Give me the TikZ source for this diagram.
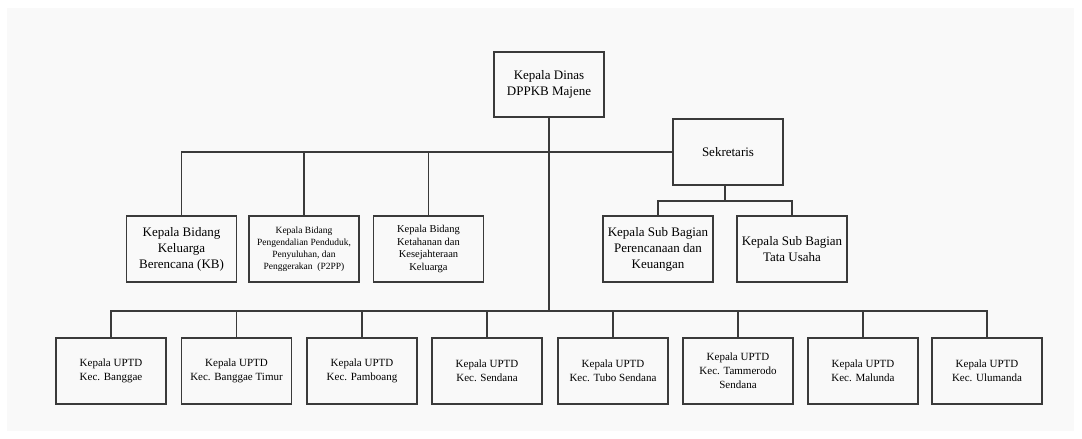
\documentclass[tikz,border=0pt]{standalone}
\usepackage{fontspec}
\setmainfont{Liberation Serif}
\newfontfamily\tnr{Liberation Serif}
\definecolor{bgc}{HTML}{F9F9F9}
\definecolor{linec}{HTML}{3A3A3A}
\tikzset{
  box/.style={draw=linec, line width=1.3pt, fill=bgc, minimum width=110pt, minimum height=66pt, align=center, inner sep=2pt, text=black},
  conn/.style={draw=linec, line width=1.3pt},
  fa/.style={font=\tnr\fontsize{13}{16}\selectfont},
  fb/.style={font=\tnr\fontsize{9.5}{12}\selectfont},
  fc/.style={font=\tnr\fontsize{10.5}{12.6}\selectfont},
  fu/.style={font=\tnr\fontsize{11}{14}\selectfont},
}
\begin{document}
\begin{tikzpicture}[x=1pt, y=-1pt]
\useasboundingbox (0,0) rectangle (1082,439);
\fill[white] (0,0) rectangle (1082,439);
\fill[bgc] (7,8) rectangle (1074,431);

\node[box, fa, minimum height=65pt] (top) at (549,84.5) {Kepala Dinas\\DPPKB Majene};
\node[box, fa] (sek) at (728,152) {Sekretaris};

\node[box, fa] (b1) at (181.5,249) {Kepala Bidang\\Keluarga\\Berencana (KB)};
\node[box, fb] (b2) at (304,249) {Kepala Bidang\\Pengendalian Penduduk,\\Penyuluhan, dan\\Penggerakan~~(P2PP)};
\node[box, fc] (b3) at (428.5,249) {Kepala Bidang\\Ketahanan dan\\Kesejahteraan\\Keluarga};

\node[box, fa] (s1) at (658,249) {Kepala Sub Bagian\\Perencanaan dan\\Keuangan};
\node[box, fa] (s2) at (792,249) {Kepala Sub Bagian\\Tata Usaha};

\node[box, fu] (u1) at (111,371) {Kepala UPTD\\Kec. Banggae};
\node[box, fu] (u2) at (236.5,371) {Kepala UPTD\\Kec. Banggae Timur};
\node[box, fu] (u3) at (362,371) {Kepala UPTD\\Kec. Pamboang};
\node[box, fu] (u4) at (487,371) {Kepala UPTD\\Kec. Sendana};
\node[box, fu] (u5) at (613,371) {Kepala UPTD\\Kec. Tubo Sendana};
\node[box, fu] (u6) at (738,371) {Kepala UPTD\\Kec. Tammerodo\\Sendana};
\node[box, fu] (u7) at (863,371) {Kepala UPTD\\Kec. Malunda};
\node[box, fu] (u8) at (987,371) {Kepala UPTD\\Kec. Ulumanda};

\coordinate (bus) at (549,311);
\coordinate (sekbus) at (725,201);

% top to bottom bus
\draw[conn] (top.south) -- (bus);
% upper horizontal line to Sekretaris
\draw[conn] (b1.north) |- (sek.west);
\draw[conn] (b2.north) -- (b2.north |- sek.west);
\draw[conn] (b3.north) -- (b3.north |- sek.west);
% Sekretaris to sub bagian
\draw[conn] (sek.south -| sekbus) -- (sekbus);
\draw[conn] (s1.north) |- (sekbus) -| (s2.north);
% bottom bus
\draw[conn] (u1.north) |- (bus) -| (u8.north);
\foreach \n in {u2,u3,u4,u5,u6,u7}{
  \draw[conn] (\n.north) -- (\n.north |- bus);
}
\end{tikzpicture}
\end{document}
